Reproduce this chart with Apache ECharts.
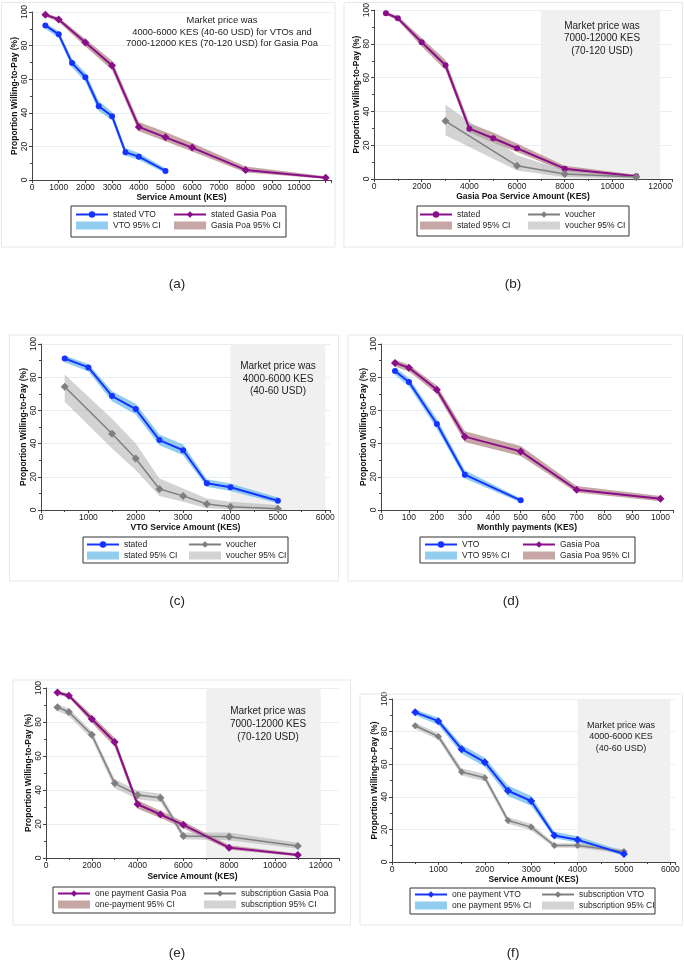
<!DOCTYPE html>
<html>
<head>
<meta charset="utf-8">
<script src="https://cdn.jsdelivr.net/npm/echarts@6/dist/echarts.min.js"></script>
<style>
html,body{margin:0;padding:0;background:#fff}
#chart{width:684px;height:962px}
</style>
</head>
<body>
<div id="chart"></div>
<script>
// (a) stated WTP, VTO vs Gasia Poa
const aVtoX = [500,1000,1500,2000,2500,3000,3500,4000,5000];
const aVto = [92.0,86.7,69.6,61.2,43.9,38.0,16.5,13.9,5.4];
const aVtoLo = [90.0,84.5,67.0,58.5,41.0,35.5,14.5,12.0,4.0];
const aVtoHi = [93.5,88.5,72.0,64.0,47.0,40.5,19.0,16.0,7.0];
const aGpX = [500,1000,2000,3000,4000,5000,6000,8000,11000];
const aGp = [98.4,95.6,81.9,68.2,31.6,25.4,19.3,6.0,1.4];
const aGpLo = [97.3,94.0,79.5,65.5,29.0,23.0,17.0,4.5,0.8];
const aGpHi = [99.2,96.8,84.0,71.0,34.5,28.5,22.0,8.0,2.2];

// (b) Gasia Poa, stated vs voucher
const bStX = [500,1000,2000,3000,4000,5000,6000,8000,11000];
const bSt = [98.2,95.1,81.0,67.3,29.8,24.1,18.2,6.1,1.6];
const bStLo = [97.2,93.8,78.5,64.5,27.5,21.5,16.0,4.5,0.8];
const bStHi = [99.0,96.5,83.5,70.5,33.0,27.5,21.0,7.8,2.5];
const bVoX = [3000,6000,8000,11000];
const bVo = [34.3,7.8,2.9,1.2];
const bVoLo = [25.9,5.0,1.2,0.3];
const bVoHi = [43.9,14.0,5.0,2.5];

// (c) VTO, stated vs voucher
const cStX = [500,1000,1500,2000,2500,3000,3500,4000,5000];
const cSt = [91.3,85.9,68.6,60.8,42.1,36.0,16.1,13.7,5.6];
const cStLo = [89.0,83.5,65.5,57.5,39.0,33.0,14.0,11.5,4.0];
const cStHi = [93.0,88.0,71.5,64.0,45.5,39.5,18.5,16.0,7.5];
const cVoX = [500,1500,2000,2500,3000,3500,4000,5000];
const cVo = [74.2,45.9,31.0,12.7,8.5,3.6,2.0,0.8];
const cVoLo = [65.2,37.0,24.0,8.5,5.0,1.0,0.5,0.0];
const cVoHi = [81.7,55.0,40.0,19.0,13.0,7.0,5.0,3.0];

// (d) monthly payments
const dVtoX = [50,100,200,300,500];
const dVto = [83.7,77.1,51.8,21.3,5.8];
const dVtoLo = [81.5,74.5,49.0,19.0,4.5];
const dVtoHi = [86.0,79.5,55.0,24.0,7.0];
const dGpX = [50,100,200,300,500,700,1000];
const dGp = [88.6,85.7,72.5,44.2,35.3,12.2,6.8];
const dGpLo = [86.5,83.5,70.0,41.0,32.5,10.5,5.3];
const dGpHi = [90.5,87.5,75.0,47.5,38.5,14.5,8.5];

// (e) Gasia Poa, one payment vs subscription
const eX = [500,1000,2000,3000,4000,5000,6000,8000,11000];
const eOne = [97.3,95.5,81.8,68.2,31.6,25.6,19.5,6.1,1.8];
const eOneLo = [96.3,94.2,79.5,65.5,29.0,23.5,17.5,4.8,1.0];
const eOneHi = [98.3,96.7,84.0,70.8,34.0,27.8,21.5,7.5,2.6];
const eSub = [88.7,85.9,72.5,43.9,37.1,35.5,12.9,12.5,7.0];
const eSubLo = [86.5,83.5,70.0,41.0,34.5,33.0,11.0,10.5,5.5];
const eSubHi = [90.5,88.0,74.5,46.5,39.5,38.0,15.0,15.0,9.0];

// (f) VTO, one payment vs subscription
const fX = [500,1000,1500,2000,2500,3000,3500,4000,5000];
const fOne = [91.8,86.4,69.2,61.2,43.7,37.4,16.2,13.6,4.9];
const fOneLo = [90.0,84.0,66.5,58.5,40.5,34.5,14.5,11.8,3.8];
const fOneHi = [93.5,88.5,72.0,64.0,47.0,40.5,18.5,15.8,6.5];
const fSub = [83.6,77.0,55.2,51.7,25.5,21.4,10.1,10.1,6.4];
const fSubLo = [81.8,75.0,53.0,49.5,23.5,19.5,8.8,8.8,5.0];
const fSubHi = [85.5,79.0,57.5,54.0,27.5,23.5,11.5,11.5,7.8];

const FONT = '"Liberation Sans", Arial, Helvetica, sans-serif';
const BLUE = '#1634ff';
const PURPLE = '#8a0d8a';
const GRAY = '#7f7f7f';
const BLUE_CI = 'rgba(110,188,234,0.75)';
const ROSE_CI = 'rgba(175,128,128,0.7)';
const GRAY_CI = 'rgba(175,175,175,0.55)';
const YNAME = 'Proportion Willing-to-Pay (%)';

const chart = echarts.init(document.getElementById('chart'), null, {renderer: 'canvas'});

const grids = [];
const xAxes = [];
const yAxes = [];
const series = [];
const legends = [];
const graphics = [];

function addPanel(g, xcfg, xname, nameGap) {
  grids.push(g);
  const gi = grids.length - 1;
  xAxes.push({
    type: 'value', gridIndex: gi, min: 0, max: xcfg.max, interval: xcfg.step,
    name: xname, nameLocation: 'middle', nameGap: nameGap,
    nameTextStyle: {fontFamily: FONT, fontSize: 8.5, fontWeight: 'bold', color: '#111'},
    axisLine: {lineStyle: {color: '#444', width: 1}},
    axisTick: {length: 3, lineStyle: {color: '#444'}},
    minorTick: {show: !!xcfg.minor, splitNumber: 2, length: 2, lineStyle: {color: '#444'}},
    splitLine: {show: false},
    axisLabel: {
      fontFamily: FONT, fontSize: 8.5, color: '#222', margin: 3,
      formatter: v => (v % xcfg.step === 0 && v <= xcfg.last) ? String(v) : ''
    }
  });
  yAxes.push({
    type: 'value', gridIndex: gi, min: 0, max: 100, interval: 20,
    name: YNAME, nameLocation: 'middle', nameGap: 13,
    nameTextStyle: {fontFamily: FONT, fontSize: 8.5, fontWeight: 'bold', color: '#111'},
    axisLine: {show: true, lineStyle: {color: '#444', width: 1}},
    axisTick: {show: true, length: 3, lineStyle: {color: '#444'}},
    minorTick: {show: true, splitNumber: 2, length: 2, lineStyle: {color: '#444'}},
    splitLine: {show: true, lineStyle: {color: '#e4eef4', width: 1}},
    axisLabel: {fontFamily: FONT, fontSize: 8.5, color: '#222', rotate: 90, margin: 3}
  });
  return gi;
}

// 95% CI band: one polygon, upper edge forward then lower edge back
function addBand(gi, xs, lo, hi, color, name) {
  series.push({
    type: 'custom', name: name, xAxisIndex: gi, yAxisIndex: gi, silent: true, z: 2,
    color: color, itemStyle: {color: color},
    data: xs.map((x, k) => [x, lo[k], hi[k]]),
    encode: {x: 0, y: [1, 2]},
    renderItem: (params, api) => {
      if (params.dataIndex !== 0) return null;
      const pts = [];
      for (let k = 0; k < xs.length; k++) pts.push(api.coord([xs[k], hi[k]]));
      for (let k = xs.length - 1; k >= 0; k--) pts.push(api.coord([xs[k], lo[k]]));
      return {type: 'polygon', shape: {points: pts}, style: {fill: color}};
    }
  });
}

function addLine(gi, xs, ys, color, name, symbol, size, width) {
  series.push({
    type: 'line', name: name, xAxisIndex: gi, yAxisIndex: gi, silent: true,
    data: xs.map((x, k) => [x, ys[k]]), symbol: symbol, symbolSize: size, showSymbol: true,
    color: color, itemStyle: {color: color}, lineStyle: {color: color, width: width}, z: 4
  });
}

function addMarket(gi, from, to) {
  series.push({
    type: 'line', xAxisIndex: gi, yAxisIndex: gi, data: [], silent: true, z: 0,
    markArea: {silent: true, itemStyle: {color: '#f0f0f0'}, data: [[{xAxis: from}, {xAxis: to}]]}
  });
}

function addLegend(col1, col2, top, names) {
  const base = {
    orient: 'vertical', top: top, itemWidth: 32, itemHeight: 8, itemGap: 2, padding: 0,
    selectedMode: false,
    textStyle: {fontFamily: FONT, fontSize: 8.5, color: '#222'},
    formatter: n => n.replace(/\u200b/g, '')
  };
  legends.push(Object.assign({}, base, {left: col1, data: [{name: names[0]}, {name: names[2], icon: 'rect'}]}));
  legends.push(Object.assign({}, base, {left: col2, data: [{name: names[1]}, {name: names[3], icon: 'rect'}]}));
}

function box(x1, y1, x2, y2, color, w) {
  graphics.push({type: 'rect', silent: true, shape: {x: x1, y: y1, width: x2 - x1, height: y2 - y1},
    style: {fill: 'none', stroke: color, lineWidth: w}, z: 100});
}

function note(x, top, lines, size, lh) {
  graphics.push({type: 'text', silent: true, x: x, y: top,
    style: {text: lines.join('\n'), fontFamily: FONT, fontSize: size, lineHeight: lh,
      fill: '#222', align: 'center', verticalAlign: 'top'}, z: 100});
}

function tag(x, y, t) {
  graphics.push({type: 'text', silent: true, x: x, y: y,
    style: {text: t, fontFamily: FONT, fontSize: 13.5, fill: '#222', align: 'center', verticalAlign: 'middle'}, z: 100});
}

// ---- (a)
let gi = addPanel({left: 32, top: 12, width: 299, height: 168}, {max: 11200, step: 1000, last: 10000}, 'Service Amount (KES)', 13);
addBand(gi, aVtoX, aVtoLo, aVtoHi, BLUE_CI, 'VTO 95% CI');
addBand(gi, aGpX, aGpLo, aGpHi, ROSE_CI, 'Gasia Poa 95% CI');
addLine(gi, aVtoX, aVto, BLUE, 'stated VTO', 'circle', 6, 2);
addLine(gi, aGpX, aGp, PURPLE, 'stated Gasia Poa', 'diamond', 8, 2);
addLegend(75, 173, 210, ['stated VTO', 'stated Gasia Poa', 'VTO 95% CI', 'Gasia Poa 95% CI']);
box(71, 206, 286, 237, '#333', 1);
note(222, 15, ['Market price was', '4000-6000 KES (40-60 USD) for VTOs and', '7000-12000 KES (70-120 USD) for Gasia Poa'], 9.4, 11.5);

// ---- (b)
gi = addPanel({left: 374, top: 9, width: 298, height: 170}, {max: 12500, step: 2000, last: 12000, minor: true}, 'Gasia Poa Service Amount (KES)', 13);
addMarket(gi, 7000, 12000);
addBand(gi, bStX, bStLo, bStHi, ROSE_CI, 'stated 95% CI');
addBand(gi, bVoX, bVoLo, bVoHi, GRAY_CI, 'voucher 95% CI');
addLine(gi, bStX, bSt, PURPLE, 'stated', 'circle', 6, 2);
addLine(gi, bVoX, bVo, GRAY, 'voucher', 'diamond', 8, 1.5);
addLegend(419, 527, 210, ['stated', 'voucher', 'stated 95% CI', 'voucher 95% CI']);
box(417, 206, 629, 236, '#333', 1);
note(602, 19.5, ['Market price was', '7000-12000 KES', '(70-120 USD)'], 10, 12.6);

// ---- (c)
gi = addPanel({left: 41, top: 344, width: 289, height: 166}, {max: 6100, step: 1000, last: 6000, minor: true}, 'VTO Service Amount (KES)', 13);
addMarket(gi, 4000, 6000);
addBand(gi, cStX, cStLo, cStHi, BLUE_CI, 'stated 95% CI\u200b');
addBand(gi, cVoX, cVoLo, cVoHi, GRAY_CI, 'voucher 95% CI\u200b');
addLine(gi, cStX, cSt, BLUE, 'stated\u200b', 'circle', 6, 2);
addLine(gi, cVoX, cVo, GRAY, 'voucher\u200b', 'diamond', 8, 1.5);
addLegend(86, 188, 540, ['stated\u200b', 'voucher\u200b', 'stated 95% CI\u200b', 'voucher 95% CI\u200b']);
box(83, 537, 288, 563, '#333', 1);
note(278, 360.5, ['Market price was', '4000-6000 KES', '(40-60 USD)'], 10, 12.2);

// ---- (d)
gi = addPanel({left: 381, top: 344, width: 292, height: 166}, {max: 1045, step: 100, last: 1000}, 'Monthly payments (KES)', 13);
addBand(gi, dVtoX, dVtoLo, dVtoHi, BLUE_CI, 'VTO 95% CI\u200b');
addBand(gi, dGpX, dGpLo, dGpHi, ROSE_CI, 'Gasia Poa 95% CI\u200b');
addLine(gi, dVtoX, dVto, BLUE, 'VTO', 'circle', 6, 2);
addLine(gi, dGpX, dGp, PURPLE, 'Gasia Poa', 'diamond', 8, 2);
addLegend(424, 522, 540, ['VTO', 'Gasia Poa', 'VTO 95% CI\u200b', 'Gasia Poa 95% CI\u200b']);
box(420, 537, 635, 563, '#333', 1);

// ---- (e)
gi = addPanel({left: 46, top: 688, width: 293, height: 170}, {max: 12800, step: 2000, last: 12000, minor: true}, 'Service Amount (KES)', 14);
addMarket(gi, 7000, 12000);
addBand(gi, eX, eOneLo, eOneHi, ROSE_CI, 'one-payment 95% CI');
addBand(gi, eX, eSubLo, eSubHi, GRAY_CI, 'subscription 95% CI');
addLine(gi, eX, eSub, GRAY, 'subscription Gasia Poa', 'diamond', 8, 1.5);
addLine(gi, eX, eOne, PURPLE, 'one payment Gasia Poa', 'diamond', 8, 2);
addLegend(57, 203, 889, ['one payment Gasia Poa', 'subscription Gasia Poa', 'one-payment 95% CI', 'subscription 95% CI']);
box(53, 887, 335, 913, '#333', 1);
note(268, 705, ['Market price was', '7000-12000 KES', '(70-120 USD)'], 10, 13);

// ---- (f)
gi = addPanel({left: 392, top: 699, width: 283, height: 163}, {max: 6100, step: 1000, last: 6000, minor: true}, 'Service Amount (KES)', 12);
addMarket(gi, 4000, 6000);
addBand(gi, fX, fOneLo, fOneHi, BLUE_CI, 'one payment 95% CI');
addBand(gi, fX, fSubLo, fSubHi, GRAY_CI, 'subscription 95% CI\u200b');
addLine(gi, fX, fSub, GRAY, 'subscription VTO', 'diamond', 7, 1.5);
addLine(gi, fX, fOne, BLUE, 'one payment VTO', 'diamond', 8, 2);
addLegend(414, 541, 890, ['one payment VTO', 'subscription VTO', 'one payment 95% CI', 'subscription 95% CI\u200b']);
box(410, 888, 655, 914, '#333', 1);
note(621, 720, ['Market price was', '4000-6000 KES', '(40-60 USD)'], 9, 11.3);

// panel frames
box(1.5, 2.5, 335, 247, '#e3e9ed', 1);
box(344, 2.5, 682.5, 247, '#e3e9ed', 1);
box(9.5, 335, 338.5, 581, '#e3e9ed', 1);
box(348, 335, 682.5, 581, '#e3e9ed', 1);
box(13, 680, 350.5, 925, '#e3e9ed', 1);
box(360, 694, 682.5, 925, '#e3e9ed', 1);

tag(177, 284, '(a)');
tag(513, 284, '(b)');
tag(177, 601, '(c)');
tag(511, 601, '(d)');
tag(177, 953, '(e)');
tag(513, 953, '(f)');

chart.setOption({
  animation: false,
  backgroundColor: '#fff',
  grid: grids,
  xAxis: xAxes,
  yAxis: yAxes,
  legend: legends,
  series: series,
  graphic: graphics
});
</script>
</body>
</html>
